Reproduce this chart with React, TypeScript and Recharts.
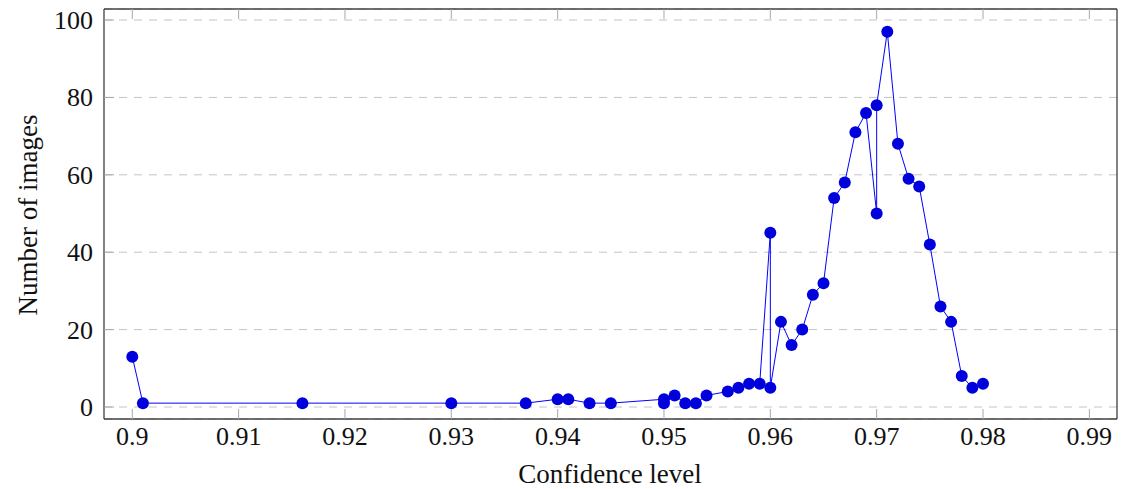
import { CartesianGrid, Line, LineChart, XAxis, YAxis } from "recharts"

const confidence = [
  0.9, 0.901, 0.916, 0.93, 0.937, 0.94, 0.941, 0.943, 0.945, 0.95, 0.95, 0.951, 0.952, 0.953,
  0.954, 0.956, 0.957, 0.958, 0.959, 0.96, 0.96, 0.961, 0.962, 0.963, 0.964, 0.965, 0.966,
  0.967, 0.968, 0.969, 0.97, 0.97, 0.971, 0.972, 0.973, 0.974, 0.975, 0.976, 0.977, 0.978,
  0.979, 0.98,
]
const images = [
  13, 1, 1, 1, 1, 2, 2, 1, 1, 2, 1, 3, 1, 1,
  3, 4, 5, 6, 6, 45, 5, 22, 16, 20, 29, 32, 54,
  58, 71, 76, 50, 78, 97, 68, 59, 57, 42, 26, 22, 8,
  5, 6,
]
const xTicks = [0.9, 0.91, 0.92, 0.93, 0.94, 0.95, 0.96, 0.97, 0.98, 0.99]
const yTicks = [0, 20, 40, 60, 80, 100]

const data = confidence.map((c, i) => ({ c, n: images[i] }))

const font = "'Liberation Serif', 'Times New Roman', serif"
const tickColor = "#a8a8a8"
const frame = { stroke: "#404040", strokeWidth: 1.3 }
const xDomain = [0.89734, 0.9926]
const yDomain = [-3.1, 102.85]

const BottomTick = (p: any) => (
  <g>
    <line x1={p.x} x2={p.x} y1={p.y} y2={p.y - 10} stroke={tickColor} />
    <text x={p.x} y={p.y + 26} textAnchor="middle" fontFamily={font} fontSize={26} fill="#111">
      {p.payload.value}
    </text>
  </g>
)
const TopTick = (p: any) => <line x1={p.x} x2={p.x} y1={p.y} y2={p.y + 10} stroke={tickColor} />
const LeftTick = (p: any) => (
  <g>
    <line x1={p.x} x2={p.x + 10} y1={p.y} y2={p.y} stroke={tickColor} />
    <text x={p.x - 11} y={p.y + 9} textAnchor="end" fontFamily={font} fontSize={26} fill="#111">
      {p.payload.value}
    </text>
  </g>
)
const RightTick = (p: any) => <line x1={p.x} x2={p.x - 10} y1={p.y} y2={p.y} stroke={tickColor} />

const XLabel = () => (
  <text x={610} y={483} textAnchor="middle" fontFamily={font} fontSize={27} fill="#111">
    Confidence level
  </text>
)
const YLabel = () => (
  <text x={37} y={215} transform="rotate(-90, 37, 215)" textAnchor="middle" fontFamily={font} fontSize={27} fill="#111">
    Number of images
  </text>
)

export default function App() {
  return (
    <div style={{ position: "absolute", left: 0, top: 0 }}>
      <LineChart width={1122} height={489} data={data} margin={{ top: 8, right: 4, bottom: 0, left: 0 }}>
        <CartesianGrid vertical={false} stroke="#c4c4c4" strokeDasharray="8 7" />
        <XAxis
          dataKey="c"
          type="number"
          domain={xDomain}
          ticks={xTicks}
          interval={0}
          height={70}
          tickSize={0}
          tickMargin={0}
          tickLine={false}
          axisLine={frame}
          tick={BottomTick}
          label={{ content: XLabel }}
        />
        <XAxis
          xAxisId="top"
          dataKey="c"
          type="number"
          orientation="top"
          domain={xDomain}
          ticks={xTicks}
          interval={0}
          height={1}
          tickSize={0}
          tickMargin={0}
          tickLine={false}
          axisLine={frame}
          tick={TopTick}
        />
        <YAxis
          type="number"
          domain={yDomain}
          ticks={yTicks}
          interval={0}
          width={104}
          tickSize={0}
          tickMargin={0}
          tickLine={false}
          axisLine={frame}
          tick={LeftTick}
          label={{ content: YLabel }}
        />
        <YAxis
          yAxisId="right"
          orientation="right"
          type="number"
          domain={yDomain}
          ticks={yTicks}
          interval={0}
          width={1}
          tickSize={0}
          tickMargin={0}
          tickLine={false}
          axisLine={frame}
          tick={RightTick}
        />
        <Line
          dataKey="n"
          stroke="#0000ff"
          strokeWidth={1}
          dot={{ r: 6, fill: "#0000dd", stroke: "none" }}
          activeDot={false}
          isAnimationActive={false}
        />
      </LineChart>
    </div>
  )
}
